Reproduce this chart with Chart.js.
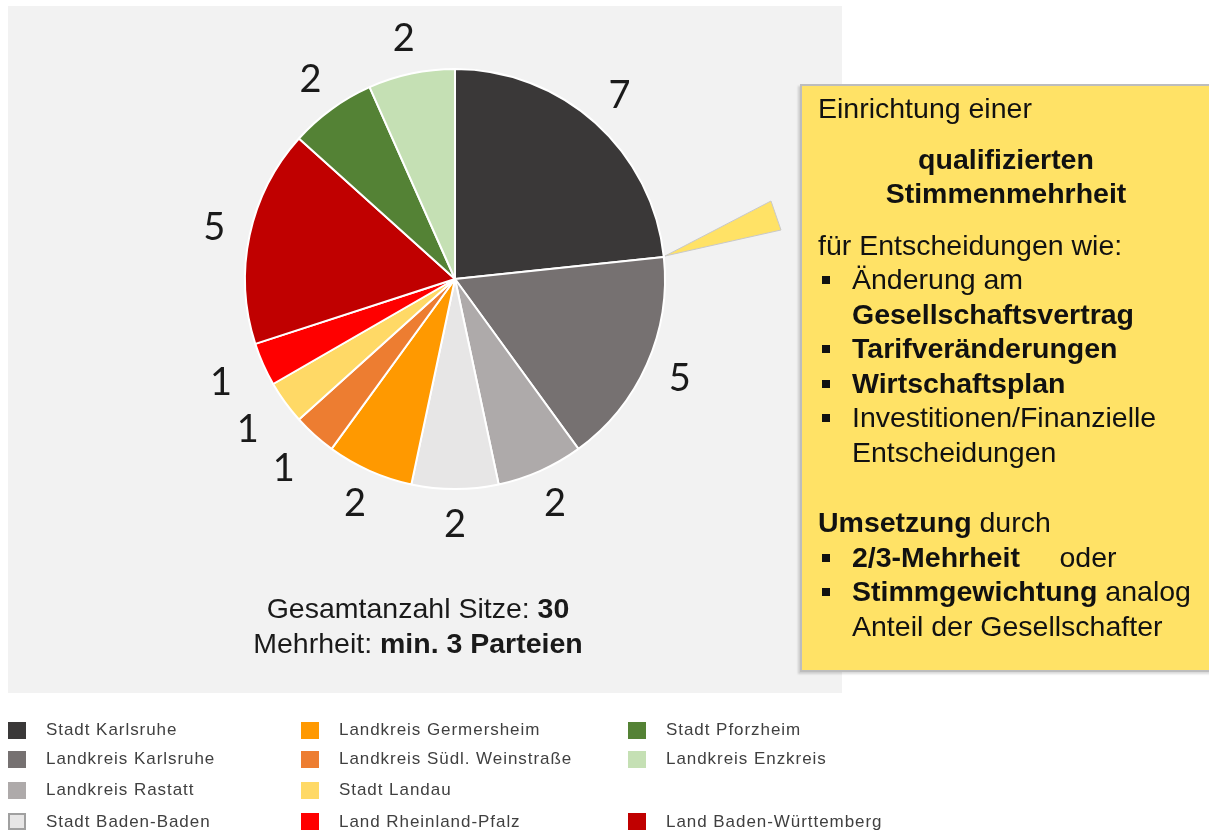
<!DOCTYPE html>
<html>
<head>
<meta charset="utf-8">
<script src="https://cdn.jsdelivr.net/npm/chart.js@4.4.0/dist/chart.umd.min.js"></script>
<style>
  body { margin: 0; background: #fff; width: 1209px; height: 833px; overflow: hidden; position: relative; font-family: "Liberation Sans", Arial, sans-serif; }
  #panel { position: absolute; left: 8px; top: 6px; width: 834px; height: 687px; background: #f2f2f2; }
  #panel canvas { position: absolute; left: 0; top: 0; }
  #summary { position: absolute; left: 210px; width: 400px; top: 585px; text-align: center; font-size: 28.5px; line-height: 35px; color: #1a1a1a; }
  #callout { position: absolute; left: 800px; top: 84px; width: 430px; height: 588px; background: #ffe266; border: 2px solid #bdbdbd; box-sizing: border-box; padding: 5px 0 0 16px; font-size: 28.5px; line-height: 34.5px; color: #111; box-shadow: -2px 2px 2px rgba(0,0,0,0.15); }
  #callout .c { width: 376px; text-align: center; }
  #callout .b { position: relative; padding-left: 34px; }
  #callout .b::before { content: ""; position: absolute; left: 4px; top: 14px; width: 8px; height: 8px; background: #111; }
  #callout .in { padding-left: 34px; }
  #arrow { position: absolute; left: 0; top: 0; }
  #legend { position: absolute; left: 8px; top: 716px; display: grid; grid-auto-flow: column; grid-template-rows: 28px 30px 32px 31px; grid-template-columns: 293px 327px 260px; font-size: 17px; letter-spacing: 0.95px; color: #404040; }
  #legend .item { display: flex; align-items: center; }
  #legend .sw { width: 18px; height: 17px; margin-right: 20px; box-sizing: border-box; }
</style>
</head>
<body>
<div id="panel">
  <canvas id="pie" width="834" height="687"></canvas>
  <div id="summary">Gesamtanzahl Sitze: <b>30</b><br>Mehrheit: <b>min. 3 Parteien</b></div>
</div>
<svg id="arrow" width="1209" height="833"><polygon points="665,256 771,201 781,230" fill="#ffe266" stroke="#c8c8c8" stroke-width="1"/></svg>
<div id="callout">
  <div>Einrichtung einer</div>
  <div class="c" style="margin-top:16px"><b>qualifizierten<br>Stimmenmehrheit</b></div>
  <div style="margin-top:17px">für Entscheidungen wie:</div>
  <div class="b">Änderung am</div>
  <div class="in"><b>Gesellschaftsvertrag</b></div>
  <div class="b"><b>Tarifveränderungen</b></div>
  <div class="b"><b>Wirtschaftsplan</b></div>
  <div class="b">Investitionen/Finanzielle</div>
  <div class="in">Entscheidungen</div>
  <div style="margin-top:36px"><b>Umsetzung</b> durch</div>
  <div class="b"><b>2/3-Mehrheit</b>&nbsp;&nbsp;&nbsp;&nbsp; oder</div>
  <div class="b"><b>Stimmgewichtung</b> analog</div>
  <div class="in">Anteil der Gesellschafter</div>
</div>
<div id="legend"></div>

<script>
// chart data
const categories = [
  "Stadt Karlsruhe", "Landkreis Karlsruhe", "Landkreis Rastatt", "Stadt Baden-Baden",
  "Landkreis Germersheim", "Landkreis Südl. Weinstraße", "Stadt Landau", "Land Rheinland-Pfalz",
  "Land Baden-Württemberg", "Stadt Pforzheim", "Landkreis Enzkreis"
];
const seats = [7, 5, 2, 2, 2, 1, 1, 1, 5, 2, 2];
const sliceColors = [
  "#3a3838", "#767171", "#aeaaaa", "#e7e6e6",
  "#ff9900", "#ed7d31", "#ffd966", "#ff0000",
  "#c00000", "#548235", "#c5e0b4"
];
// legend reads down the columns, one empty slot before Baden-Württemberg
const legendOrder = [0, 1, 2, 3, 4, 5, 6, 7, 9, 10, null, 8];

// seat numbers outside each slice
const seatLabels = {
  id: "seatLabels",
  afterDatasetsDraw(chart) {
    const ctx = chart.ctx;
    const meta = chart.getDatasetMeta(0);
    ctx.save();
    ctx.font = "38px Lato, 'Open Sans', sans-serif";
    ctx.fillStyle = "#1a1a1a";
    ctx.textAlign = "center";
    ctx.textBaseline = "middle";
    meta.data.forEach(function (arc, i) {
      const p = arc.getProps(["x", "y", "startAngle", "endAngle", "outerRadius"], true);
      const a = (p.startAngle + p.endAngle) / 2;
      const r = p.outerRadius + (seats[i] == 1 ? 46 : 36);
      ctx.fillText(seats[i], p.x + Math.cos(a) * r, p.y + Math.sin(a) * r);
    });
    ctx.restore();
  }
};

const pieChart = new Chart(document.getElementById("pie").getContext("2d"), {
  type: "pie",
  data: {
    labels: categories,
    datasets: [{
      data: seats,
      backgroundColor: sliceColors,
      borderColor: "#ffffff",
      borderWidth: 2
    }]
  },
  options: {
    responsive: false,
    animation: false,
    layout: { padding: { left: 236, right: 176, top: 61, bottom: 202 } },
    plugins: {
      legend: { display: false },
      tooltip: { enabled: false }
    }
  },
  plugins: [seatLabels]
});

// html legend
const legendBox = document.getElementById("legend");
legendOrder.forEach(function (idx) {
  const item = document.createElement("div");
  item.className = "item";
  if (idx !== null) {
    const sw = document.createElement("span");
    sw.className = "sw";
    sw.style.background = sliceColors[idx];
    if (idx == 3) sw.style.border = "2px solid #a0a0a0";
    item.appendChild(sw);
    item.appendChild(document.createTextNode(categories[idx]));
  }
  legendBox.appendChild(item);
});
</script>
</body>
</html>
